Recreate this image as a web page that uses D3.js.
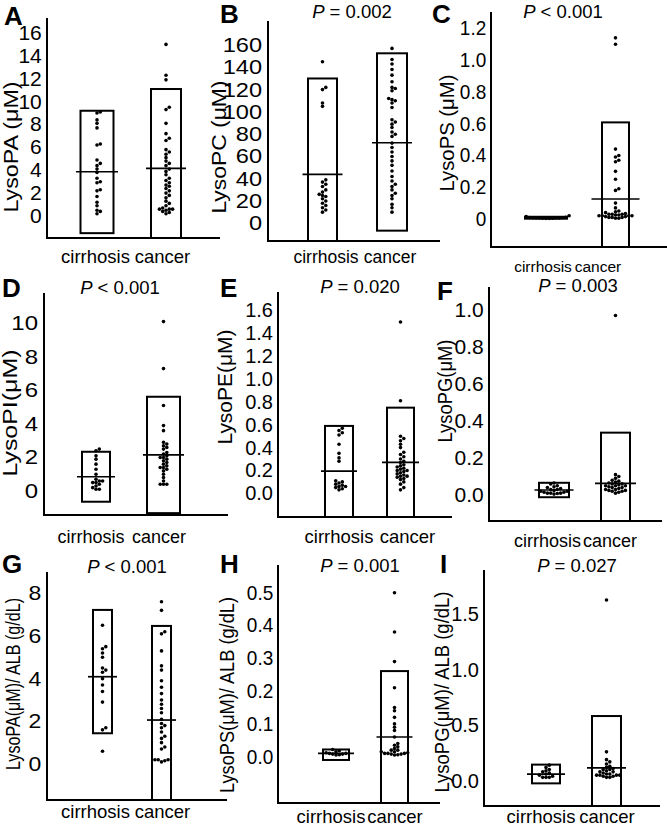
<!DOCTYPE html>
<html><head><meta charset="utf-8">
<script src="https://cdn.jsdelivr.net/npm/d3@7"></script>
<style>body{margin:0;background:#fff}svg{display:block}text{font-family:"Liberation Sans",Arial,Helvetica,sans-serif}</style>
</head><body><svg id="c" width="667" height="828"></svg>
<script>
// ---------- DATA ----------
const categories = ["cirrhosis", "cancer"];
const panelLetters = ["A","B","C","D","E","F","G","H","I"];
const yTitles = ["LysoPA (μM)","LysoPC (μM)","LysoPS (μM)","LysoPI(μM)","LysoPE(μM)","LysoPG(μM)",
                 "LysoPA(μM)/ ALB (g/dL)","LysoPS(μM)/ ALB (g/dL)","LysoPG(μM)/ ALB (g/dL)"];
const pLabels = [null, "= 0.002", "< 0.001", "< 0.001", "= 0.020", "= 0.003", "< 0.001", "= 0.001", "= 0.027"];

const ticksA = [0,2,4,6,8,10,12,14,16];
const ticksB = [0,20,40,60,80,100,120,140,160];
const ticksC = [0,0.2,0.4,0.6,0.8,1.0,1.2];
const ticksD = [0,2,4,6,8,10];
const ticksE = [0,0.2,0.4,0.6,0.8,1.0,1.2,1.4,1.6];
const ticksF = [0,0.2,0.4,0.6,0.8,1.0];
const ticksG = [0,2,4,6,8];
const ticksH = [0,0.1,0.2,0.3,0.4,0.5];
const ticksI = [0,0.5,1.0,1.5];

// per group: [cirrhosis, cancer]
const meanA = [3.87, 4.17],  boxLowA = [-1.5, -3],    boxHighA = [9.2, 11.1];
const meanB = [44, 72.3],    boxLowB = [-42, -6.6],   boxHighB = [130, 152.6];
const meanC = [0.008, 0.126],boxLowC = [0.002, -0.4], boxHighC = [0.014, 0.608];
const meanD = [0.85, 2.15],  boxLowD = [-0.64, -1.32],boxHighD = [2.34, 5.62];
const meanE = [0.195, 0.27], boxLowE = [-0.3, -0.3],  boxHighE = [0.59, 0.75];
const meanF = [0.027, 0.063],boxLowF = [-0.012, -0.2],boxHighF = [0.066, 0.337];
const meanG = [4.09, 2.06],  boxLowG = [1.44, -2],    boxHighG = [7.22, 6.47];
const meanH = [0.01, 0.06],  boxLowH = [-0.01, -0.2], boxHighH = [0.022, 0.261];
const meanI = [0.06, 0.115], boxLowI = [-0.024, -0.3],boxHighI = [0.145, 0.583];

const cirrA = [9.1,9.0,8.4,8.1,7.7,6.3,6.2,4.9,4.6,4.4,4.1,3.8,3.3,3.0,2.9,2.3,2.2,1.7,1.2,0.9,0.5,0.4,0.2];
const cancA = [15.0,12.3,11.9,9.5,9.3,8.1,7.2,6.8,6.6,5.8,5.6,5.4,5.1,4.8,4.6,4.4,4.1,3.9,3.6,3.3,3.1,2.9,2.7,2.6,2.4,2.2,2.0,1.8,1.6,1.3,1.1,0.9,0.7,0.6,0.6,0.6,0.5,0.4,0.3,0.2];
const cirrB = [145,122,120,108,105,39,37,35,33,30,28,26,25,24,22,20,18,16,14,12,10];
const cancB = [157,147,143,138,133,127,122,121,119,112,111,110,108,104,93,91,89,86,82,80,78,72,68,64,60,56,52,47,42,38,35,33,30,27,25,22,17,14,10];
const cirrC = [0.02,0.015,0.01,0.009,0.008,0.008,0.007,0.007,0.006,0.006,0.005,0.005,0.004,0.004];
const cancC = [1.14,1.10,0.44,0.40,0.39,0.37,0.36,0.30,0.25,0.19,0.18,0.10,0.07,0.05,0.045,0.04,0.035,0.03,0.03,0.03,0.025,0.025,0.02,0.02,0.02,0.02,0.015,0.015,0.01,0.01,0.01,0.005,0.005];
const cirrD = [2.5,2.4,2.1,1.9,1.6,1.3,1.0,0.7,0.6,0.6,0.5,0.5,0.4,0.3,0.2,0.1,0.1];
const cancD = [10.1,7.3,5.1,3.9,3.6,2.9,2.8,2.7,2.6,2.5,2.3,2.2,2.1,2.0,2.0,1.9,1.8,1.7,1.6,1.5,1.4,1.4,1.3,1.2,1.0,0.8,0.6,0.4,0.4,0.4];
const cirrE = [0.57,0.55,0.53,0.51,0.43,0.35,0.31,0.28,0.11,0.10,0.09,0.08,0.07,0.06,0.06,0.05,0.04,0.03];
const cancE = [1.50,0.81,0.50,0.48,0.46,0.43,0.40,0.36,0.34,0.32,0.30,0.28,0.27,0.25,0.24,0.23,0.22,0.21,0.20,0.20,0.19,0.18,0.17,0.16,0.15,0.15,0.14,0.13,0.12,0.10,0.08,0.05,0.03];
const cirrF = [0.065,0.06,0.05,0.045,0.04,0.035,0.03,0.03,0.025,0.02,0.02,0.015,0.015,0.01,0.01,0.01,0.008,0.005];
const cancF = [0.97,0.11,0.10,0.09,0.08,0.075,0.07,0.065,0.06,0.06,0.055,0.05,0.05,0.05,0.045,0.04,0.04,0.035,0.03,0.03,0.025,0.025,0.02,0.02,0.015,0.01];
const cirrG = [6.5,5.5,5.4,5.2,5.0,4.5,4.4,4.3,4.0,3.7,3.4,2.9,1.7,1.6,0.6];
const cancG = [7.6,7.2,6.2,6.1,5.3,4.6,4.4,3.9,3.6,3.3,3.0,2.8,2.6,2.4,2.1,1.9,1.8,1.7,1.5,1.3,1.2,1.0,0.8,0.7,0.2,0.2,0.2,0.15,0.1];
const cirrH = [0.022,0.018,0.015,0.012,0.01,0.01,0.008,0.008,0.006,0.005];
const cancH = [0.50,0.38,0.29,0.21,0.15,0.14,0.12,0.10,0.09,0.08,0.06,0.04,0.035,0.03,0.025,0.02,0.02,0.015,0.015,0.012,0.01,0.01,0.01,0.008,0.008,0.006,0.005];
const cirrI = [0.14,0.12,0.10,0.09,0.08,0.07,0.06,0.05,0.04,0.03,0.03,0.03];
const cancI = [1.63,0.26,0.19,0.17,0.15,0.13,0.12,0.11,0.10,0.10,0.09,0.08,0.08,0.07,0.06,0.06,0.05,0.05,0.05,0.05,0.04,0.04,0.03,0.03];

// ---------- LAYOUT (positions / sizes only) ----------
const layout = [
 {axisX:47, top:18, bottom:238, right:220, zeroY:216,   ppu:11.44, cx:[97,166],     boxHalf:[16.5,15],  meanHalf:[21,20],    letter:[4,25],    title:[11,147,131],  p:null,      xlab:[95.5,162.5,263,18.5], tsx:1.05, fmt:d3.format("d")},
 {axisX:268,top:21, bottom:241, right:440, zeroY:223.3, ppu:1.114, cx:[322.5,392],  boxHalf:[14.5,15],  meanHalf:[20,20],    letter:[220,23],  title:[219,147,133], p:[352,18],  xlab:[326,390,263,17.5],    tsx:1.18, fmt:d3.format("d")},
 {axisX:491,top:12, bottom:247, right:667, zeroY:219,   ppu:158.9, cx:[546,615.5],  boxHalf:[21,13.5],  meanHalf:[21,24],    letter:[432,23],  title:[447,133,117], p:[563,18],  xlab:[543,598,272,15.5],    tsx:0.95, fmt:v => v===0 ? "0" : d3.format(".1f")(v)},
 {axisX:44, top:293,bottom:515, right:228, zeroY:491,   ppu:16.77, cx:[96,163.5],   boxHalf:[14,16.5],  meanHalf:[19,20.5],  letter:[2,297],   title:[10,413,127],  p:[120,294], xlab:[91,159,543,18],       tsx:1.2,  fmt:d3.format("d")},
 {axisX:278,top:292,bottom:517, right:452, zeroY:493.3, ppu:114.2, cx:[339,400.5],  boxHalf:[14,13.5],  meanHalf:[18,18.5],  letter:[220,297], title:[225,387,115], p:[360,293], xlab:[339,407.5,543,18.5],  tsx:1.0,  fmt:d3.format(".1f")},
 {axisX:489,top:287,bottom:521, right:662, zeroY:495,   ppu:185,   cx:[554,615.5],  boxHalf:[15,14.5],  meanHalf:[19.5,20.5],letter:[437,300], title:[445,391,103], p:[578,292], xlab:[547.5,610,547,18],    tsx:1.05, fmt:d3.format(".1f")},
 {axisX:47, top:572,bottom:800, right:227, zeroY:764,   ppu:21.34, cx:[102.5,161.5],boxHalf:[9.5,9.5],  meanHalf:[14.5,14.5],letter:[2,573],   title:[13,684,172],  p:[127,573], xlab:[95.5,162.5,818,18.5], tsx:1.15, fmt:d3.format("d")},
 {axisX:278,top:565,bottom:803, right:440, zeroY:756.7, ppu:328,   cx:[336,394.5],  boxHalf:[13,13.5],  meanHalf:[18,18],    letter:[220,573], title:[227,695,196], p:[360,572], xlab:[331,395,823,18.5],    tsx:0.95, fmt:d3.format(".1f")},
 {axisX:484,top:570,bottom:806, right:660, zeroY:780.7, ppu:110.9, cx:[546,606.5],  boxHalf:[14,14.5],  meanHalf:[19,19.5],  letter:[440,573], title:[442,692,201], p:[577,572], xlab:[541,607,823,18.5],    tsx:1.0,  fmt:d3.format(".1f")}
];

const panels = [
 {ticks:ticksA, mean:meanA, lo:boxLowA, hi:boxHighA, pts:[cirrA,cancA]},
 {ticks:ticksB, mean:meanB, lo:boxLowB, hi:boxHighB, pts:[cirrB,cancB]},
 {ticks:ticksC, mean:meanC, lo:boxLowC, hi:boxHighC, pts:[cirrC,cancC]},
 {ticks:ticksD, mean:meanD, lo:boxLowD, hi:boxHighD, pts:[cirrD,cancD]},
 {ticks:ticksE, mean:meanE, lo:boxLowE, hi:boxHighE, pts:[cirrE,cancE]},
 {ticks:ticksF, mean:meanF, lo:boxLowF, hi:boxHighF, pts:[cirrF,cancF]},
 {ticks:ticksG, mean:meanG, lo:boxLowG, hi:boxHighG, pts:[cirrG,cancG]},
 {ticks:ticksH, mean:meanH, lo:boxLowH, hi:boxHighH, pts:[cirrH,cancH]},
 {ticks:ticksI, mean:meanI, lo:boxLowI, hi:boxHighI, pts:[cirrI,cancI]}
];

const svg = d3.select("#c");
const R = 1.8, STEP = 3.3;

function swarm(vals, y) {
  const placed = [];
  return vals.slice().sort((a,b)=>a-b).map(v => {
    const py = y(v);
    let k = 0, off = 0;
    for (;;) {
      off = k === 0 ? 0 : (k % 2 ? 1 : -1) * Math.ceil(k/2) * STEP;
      const o = off;
      if (!placed.some(p => Math.abs(p.dx - o) < STEP*0.95 && Math.abs(p.py - py) < 2*R*0.85)) break;
      k++;
    }
    placed.push({dx: off, py});
    return {v, dx: off};
  });
}

panels.forEach((pd, i) => {
  const L = layout[i];
  const g = svg.append("g");
  const y = d3.scaleLinear()
    .domain([(L.zeroY - L.bottom)/L.ppu, (L.zeroY - L.top)/L.ppu])
    .range([L.bottom, L.top]).clamp(true);

  const ax = g.append("g").attr("transform", `translate(${L.axisX},0)`)
    .call(d3.axisLeft(y).tickValues(pd.ticks).tickSize(0).tickPadding(5).tickFormat(L.fmt));
  ax.select(".domain").remove();
  ax.attr("font-size", 20).attr("font-family", '"Liberation Sans", Arial, sans-serif');
  ax.selectAll("text").attr("fill", "#000").attr("transform", `scale(${L.tsx},1)`);

  g.append("line").attr("x1", L.axisX).attr("x2", L.axisX).attr("y1", L.top).attr("y2", L.bottom+1)
    .attr("stroke", "#000").attr("stroke-width", 2);
  g.append("line").attr("x1", L.axisX-1).attr("x2", L.right).attr("y1", L.bottom).attr("y2", L.bottom)
    .attr("stroke", "#000").attr("stroke-width", 2);

  categories.forEach((cat, j) => {
    const cx = L.cx[j];
    const yt = y(pd.hi[j]), yb = Math.min(y(pd.lo[j]), L.bottom);
    g.append("rect").attr("x", cx - L.boxHalf[j]).attr("y", yt)
      .attr("width", 2*L.boxHalf[j]).attr("height", Math.max(yb - yt, 0.5))
      .attr("fill", "none").attr("stroke", "#000").attr("stroke-width", 2);
    g.append("line").attr("x1", cx - L.meanHalf[j]).attr("x2", cx + L.meanHalf[j])
      .attr("y1", y(pd.mean[j])).attr("y2", y(pd.mean[j]))
      .attr("stroke", "#000").attr("stroke-width", 1.7);
    g.selectAll(null).data(swarm(pd.pts[j], y)).enter().append("circle")
      .attr("cx", d => cx + d.dx).attr("cy", d => y(d.v)).attr("r", R).attr("fill", "#000");
    g.append("text").attr("x", L.xlab[j]).attr("y", L.xlab[2]).attr("text-anchor", "middle")
      .attr("font-size", L.xlab[3]).text(cat);
  });

  g.append("text").attr("transform", `translate(${L.title[0]},${L.title[1]}) rotate(-90)`)
    .attr("text-anchor", "middle").attr("dy", "0.35em").attr("font-size", 20)
    .attr("textLength", L.title[2]).attr("lengthAdjust", "spacingAndGlyphs")
    .text(yTitles[i]);

  g.append("text").attr("x", L.letter[0]).attr("y", L.letter[1]).attr("font-size", 26)
    .attr("font-weight", "bold").text(panelLetters[i]);

  if (pLabels[i]) {
    const t = g.append("text").attr("x", L.p[0]).attr("y", L.p[1]).attr("text-anchor", "middle").attr("font-size", 18.5);
    t.append("tspan").attr("font-style", "italic").text("P");
    t.append("tspan").text(" " + pLabels[i]);
  }
});
</script></body></html>
